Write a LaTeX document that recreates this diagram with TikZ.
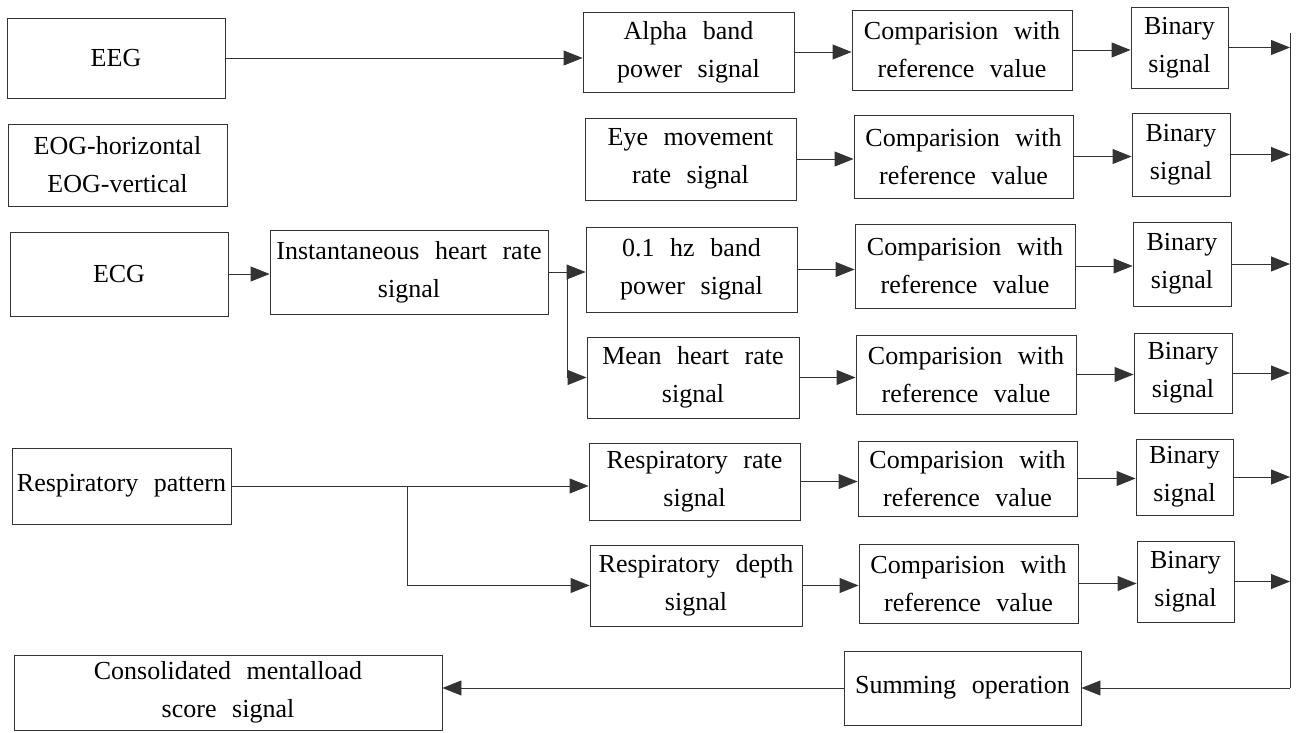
\documentclass[tikz,border=0pt]{standalone}
\usepackage{fontspec}
\setmainfont{Liberation Serif}[WordSpace=2.4]
\usetikzlibrary{arrows.meta}
\begin{document}
\begin{tikzpicture}[x=1pt,y=-1pt,
  box/.style={draw=black!80, line width=0.9pt, inner sep=1pt, align=center,
    font=\fontsize{26pt}{38pt}\selectfont},
  arr/.style={draw=black!80, line width=0.9pt, -{Triangle[length=19pt,width=15pt]}},
  ln/.style={draw=black!80, line width=0.9pt}]
\useasboundingbox[fill=white] (0,0) rectangle (1304,733);
% column 1
\node[box, minimum width=218pt, minimum height=80pt] (eeg) at (116,58) {EEG};
\node[box, minimum width=219pt, minimum height=82pt] (eog) at (117.5,165) {EOG-horizontal\\EOG-vertical};
\node[box, minimum width=218pt, minimum height=84pt] (ecg) at (119,274) {ECG};
\node[box, minimum width=219pt, minimum height=76pt] (resp) at (121.5,486) {Respiratory pattern};
\node[box, minimum width=428pt, minimum height=75pt] (cons) at (228,692.5) {Consolidated mentalload\\score signal};
% column 2
\node[box, minimum width=278pt, minimum height=84pt] (inst) at (409,272) {Instantaneous heart rate\\signal};
% column 3
\node[box, minimum width=211pt, minimum height=80pt] (alpha) at (688.5,52) {Alpha band\\power signal};
\node[box, minimum width=211pt, minimum height=82pt] (eye) at (690.5,159) {Eye movement\\rate signal};
\node[box, minimum width=211pt, minimum height=85pt] (hz) at (691.5,269.5) {0.1 hz band\\power signal};
\node[box, minimum width=212pt, minimum height=81pt] (mean) at (693,377.5) {Mean heart rate\\signal};
\node[box, minimum width=211pt, minimum height=77pt] (rrate) at (694.5,481.5) {Respiratory rate\\signal};
\node[box, minimum width=212pt, minimum height=81pt] (rdepth) at (696,585.5) {Respiratory depth\\signal};
% column 4
\node[box, minimum width=220pt, minimum height=80pt] (c1) at (962,50) {Comparision with\\reference value};
\node[box, minimum width=219pt, minimum height=83pt] (c2) at (963.5,156.5) {Comparision with\\reference value};
\node[box, minimum width=220pt, minimum height=84pt] (c3) at (965,266) {Comparision with\\reference value};
\node[box, minimum width=220pt, minimum height=79pt] (c4) at (966,374.5) {Comparision with\\reference value};
\node[box, minimum width=219pt, minimum height=75pt] (c5) at (967.5,478.5) {Comparision with\\reference value};
\node[box, minimum width=219pt, minimum height=79pt] (c6) at (968.5,583.5) {Comparision with\\reference value};
% column 5
\node[box, minimum width=97pt, minimum height=81pt] (b1) at (1179.5,47.5) {Binary\\signal};
\node[box, minimum width=98pt, minimum height=83pt] (b2) at (1181,154.5) {Binary\\signal};
\node[box, minimum width=98pt, minimum height=84pt] (b3) at (1182,264) {Binary\\signal};
\node[box, minimum width=98pt, minimum height=80pt] (b4) at (1183,373) {Binary\\signal};
\node[box, minimum width=97pt, minimum height=76pt] (b5) at (1184.5,477) {Binary\\signal};
\node[box, minimum width=97pt, minimum height=81pt] (b6) at (1185.5,581.5) {Binary\\signal};
% summing
\node[box, minimum width=237pt, minimum height=74pt] (sum) at (962.5,688) {Summing operation};
% helper coordinates
\coordinate (vtop) at (1290,33);
\coordinate (vbot) at (1290,688);
\coordinate (ib) at (567,0);
\coordinate (rb) at (407,0);
% connectors
\draw[arr] (eeg.east) -- (eeg.east -| alpha.west);
\draw[arr] (ecg.east) -- (ecg.east -| inst.west);
\draw[arr] (inst.east) -- (inst.east -| hz.west);
\draw[arr] (inst.east -| ib) |- (mean.west);
\draw[arr] (resp.east) -- (resp.east -| rrate.west);
\draw[arr] (resp.east -| rb) |- (rdepth.west);
\foreach \s/\c/\b in {alpha/c1/b1, eye/c2/b2, hz/c3/b3, mean/c4/b4, rrate/c5/b5, rdepth/c6/b6}{
  \draw[arr] (\s.east) -- (\s.east -| \c.west);
  \draw[arr] (\c.east) -- (\c.east -| \b.west);
  \draw[arr] (\b.east) -- (\b.east -| vtop);
}
\draw[ln] (vtop) -- (vbot);
\draw[arr] (vbot) -- (vbot -| sum.east);
\draw[arr] (sum.west) -- (sum.west -| cons.east);
\end{tikzpicture}
\end{document}
